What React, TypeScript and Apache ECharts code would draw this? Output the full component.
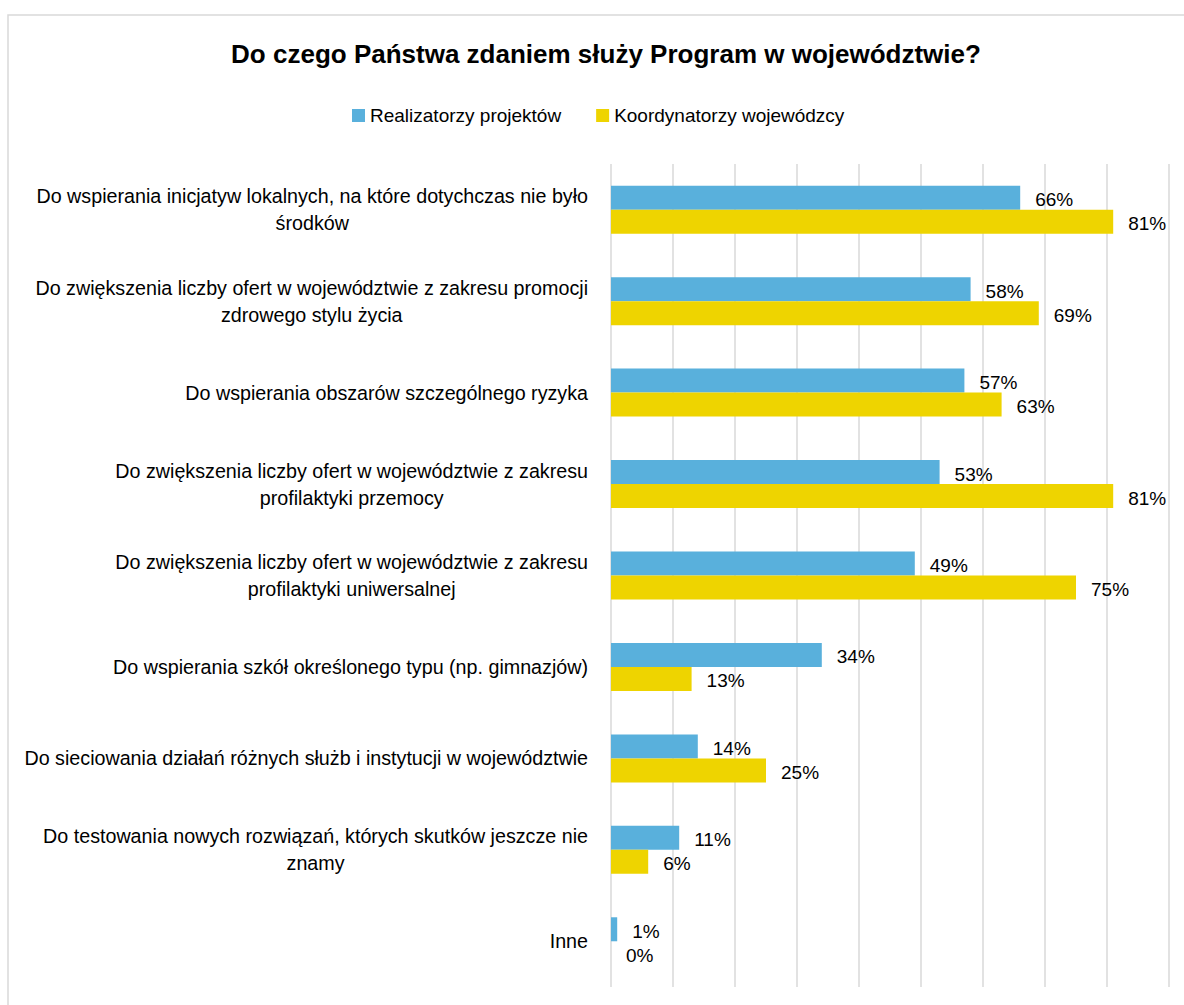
import React, { useEffect, useRef } from 'react';
import * as echarts from 'echarts';

const categories: string[] = [
  'Do wspierania inicjatyw lokalnych, na które dotychczas nie było\nśrodków',
  'Do zwiększenia liczby ofert w województwie z zakresu promocji\nzdrowego stylu życia',
  'Do wspierania obszarów szczególnego ryzyka',
  'Do zwiększenia liczby ofert w województwie z zakresu\nprofilaktyki przemocy',
  'Do zwiększenia liczby ofert w województwie z zakresu\nprofilaktyki uniwersalnej',
  'Do wspierania szkół określonego typu (np. gimnazjów)',
  'Do sieciowania działań różnych służb i instytucji w województwie',
  'Do testowania nowych rozwiązań, których skutków jeszcze nie\nznamy',
  'Inne',
];

const realizatorzy: number[] = [66, 58, 57, 53, 49, 34, 14, 11, 1];
const koordynatorzy: number[] = [81, 69, 63, 81, 75, 13, 25, 6, 0];

const seriesNames: string[] = ['Realizatorzy projektów', 'Koordynatorzy wojewódzcy'];
const titleText = 'Do czego Państwa zdaniem służy Program w województwie?';

const xMin = 0;
const xMax = 90;
const xInterval = 10;

const FONT = "'Liberation Sans', Arial, sans-serif";
const BLUE = '#59B0DC';
const YELLOW = '#EED400';
const GRID = '#D9D9D9';

export default function App() {
  const ref = useRef<HTMLDivElement>(null);

  useEffect(() => {
    if (!ref.current) return;
    const chart = echarts.init(ref.current, undefined, { renderer: 'svg' });
    chart.setOption({
      animation: false,
      backgroundColor: '#ffffff',
      title: {
        text: titleText,
        left: 601,
        textAlign: 'center',
        top: 36,
        textStyle: {
          fontFamily: FONT,
          fontSize: 26,
          fontWeight: 'bold',
          color: '#000000',
        },
      },
      legend: {
        data: seriesNames,
        left: 347,
        top: 101,
        itemWidth: 13,
        itemHeight: 13,
        itemGap: 35,
        icon: 'rect',
        textStyle: { fontFamily: FONT, fontSize: 19, color: '#000000' },
      },
      graphic: [
        {
          type: 'rect',
          z: -10,
          silent: true,
          shape: { x: 8, y: 15, width: 1200, height: 1010 },
          style: { fill: 'none', stroke: GRID, lineWidth: 1.5 },
        },
      ],
      grid: {
        left: 611,
        right: 15,
        top: 164,
        bottom: 18,
        containLabel: false,
      },
      xAxis: {
        type: 'value',
        min: xMin,
        max: xMax,
        interval: xInterval,
        axisLabel: { show: false },
        axisLine: { show: false },
        axisTick: { show: false },
        splitLine: { show: true, lineStyle: { color: GRID, width: 1.5 } },
      },
      yAxis: {
        type: 'category',
        data: categories,
        inverse: true,
        axisLine: { show: false },
        axisTick: { show: false },
        splitLine: { show: false },
        axisLabel: {
          interval: 0,
          margin: 23,
          align: 'right',
          fontFamily: FONT,
          fontSize: 19.7,
          lineHeight: 27,
          color: '#000000',
          formatter: (v: string) =>
            v
              .split('\n')
              .map((l) => `{c|${l}}`)
              .join('\n'),
          rich: {
            c: {
              align: 'center',
              fontFamily: FONT,
              fontSize: 19.7,
              lineHeight: 27,
              color: '#000000',
            },
          },
        },
      },
      series: [
        {
          name: seriesNames[0],
          type: 'bar',
          data: realizatorzy,
          barWidth: 24,
          barGap: '0%',
          itemStyle: { color: BLUE },
          label: {
            show: true,
            position: 'right',
            distance: 15,
            offset: [0, 2],
            formatter: '{c}%',
            fontFamily: FONT,
            fontSize: 19,
            color: '#000000',
          },
        },
        {
          name: seriesNames[1],
          type: 'bar',
          data: koordynatorzy,
          barWidth: 24,
          barGap: '0%',
          itemStyle: { color: YELLOW },
          label: {
            show: true,
            position: 'right',
            distance: 15,
            offset: [0, 2],
            formatter: '{c}%',
            fontFamily: FONT,
            fontSize: 19,
            color: '#000000',
          },
        },
      ],
    });
    return () => chart.dispose();
  }, []);

  return (
    <div
      ref={ref}
      style={{ position: 'absolute', left: 0, top: 0, width: 1184, height: 1005 }}
    />
  );
}
